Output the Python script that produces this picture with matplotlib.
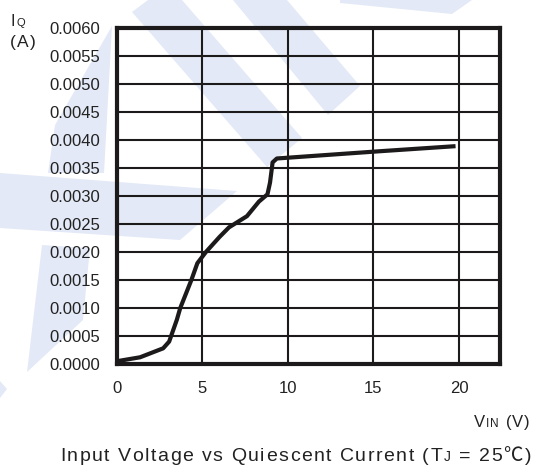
import matplotlib
matplotlib.use("Agg")
import matplotlib.pyplot as plt
from matplotlib.patches import Polygon

# quiescent current curve
vin = [0.0, 1.35, 2.7, 3.05, 3.5, 3.7, 4.35, 4.7, 5.2, 6.0, 6.55, 7.6, 8.3,
       8.8, 8.95, 9.1, 9.35, 15.4, 19.8]
iq = [0.00005, 0.00012, 0.00028, 0.0004, 0.00079, 0.001, 0.0015, 0.0018,
      0.002, 0.00227, 0.00244, 0.00264, 0.0029, 0.00303, 0.00324, 0.0036,
      0.00367, 0.0038, 0.00389]

x_ticks = [0, 5, 10, 15, 20]
y_ticks = [0.0, 0.0005, 0.0010, 0.0015, 0.0020, 0.0025, 0.0030, 0.0035,
           0.0040, 0.0045, 0.0050, 0.0055, 0.0060]
y_labels = ["0.0000", "0.0005", "0.0010", "0.0015", "0.0020", "0.0025",
            "0.0030", "0.0035", "0.0040", "0.0045", "0.0050", "0.0055",
            "0.0060"]

W, H = 534, 466
INK = "#1c1a1a"
TXT = "#222222"
WM = "#e3e9f6"

# background watermark shapes (pixel coords, y down)
watermark = [
    [(132, 12), (148, 0), (182, 0), (302, 138), (267, 167)],
    [(233, 0), (287, 0), (360, 86), (328, 115)],
    [(340, 0), (472, 0), (452, 14), (340, 3)],
    [(112, 26), (104, 173), (48, 173), (55, 125)],
    [(0, 173), (237, 191), (180, 240), (0, 228)],
    [(42, 245), (90, 248), (83, 320), (27, 372)],
    [(0, 381), (7, 389), (0, 398)],
]

plt.rcParams["font.family"] = ["Liberation Sans", "Noto Sans CJK SC", "DejaVu Sans"]

fig = plt.figure(figsize=(W / 100, H / 100), dpi=100)
for shape in watermark:
    pts = [(x / W, 1 - y / H) for x, y in shape]
    fig.add_artist(Polygon(pts, closed=True, facecolor=WM, edgecolor="none",
                           transform=fig.transFigure, zorder=0))

ax = fig.add_axes([117 / W, 1 - 364 / H, (500 - 117) / W, (364 - 28) / H])
ax.set_facecolor("none")
ax.plot(vin, iq, color=INK, lw=3.0, solid_joinstyle="round",
        solid_capstyle="butt", zorder=3)

ax.set_xlim(0, 22.4)
ax.set_ylim(0, 0.006)
ax.set_xticks(x_ticks)
ax.set_xticklabels([str(t) for t in x_ticks])
ax.set_yticks(y_ticks)
ax.set_yticklabels(y_labels)
ax.grid(True, color=INK, lw=1.5)
ax.set_axisbelow(True)
ax.tick_params(length=0, labelsize=12, colors=TXT)
ax.tick_params(axis="y", pad=12)
ax.tick_params(axis="x", pad=12.5)
for s in ax.spines.values():
    s.set_linewidth(3.0)
    s.set_color(INK)

renderer = fig.canvas.get_renderer()


def text_w(s, size):
    # advance width in pixels, spaces handled via a pair of probe glyphs
    t = fig.text(0, 0, "x" + s + "x", fontsize=size)
    r = fig.text(0, 0, "xx", fontsize=size)
    w = t.get_window_extent(renderer).width - r.get_window_extent(renderer).width
    t.remove()
    r.remove()
    return w


def rich(pieces, x, y, ha="left", track=0.0):
    # mixed sizes on one baseline with letter spacing; pixel coords, y down
    chars = [(c, s) for t, s in pieces for c in t]
    widths = [text_w(c, s) + track for c, s in chars]
    cur = x - sum(widths) + track if ha == "right" else x
    for (c, s), w in zip(chars, widths):
        if c != " ":
            fig.text(cur / W, 1 - y / H, c, fontsize=s, va="baseline", color=TXT)
        cur += w


rich([("I", 11.5), ("Q", 8)], 11, 26, track=0.8)
rich([("(A)", 12.5)], 10, 47, track=1.0)
rich([("V", 12), ("IN", 8.5), (" (V)", 12)], 530, 427, ha="right", track=1.0)
rich([("Input Voltage vs Quiescent Current (T", 14), ("J", 10),
      (" = 25", 14), ("\u2103", 14), (")", 14)], 531, 461, ha="right",
     track=1.5)

fig.savefig("out.png", dpi=100)
